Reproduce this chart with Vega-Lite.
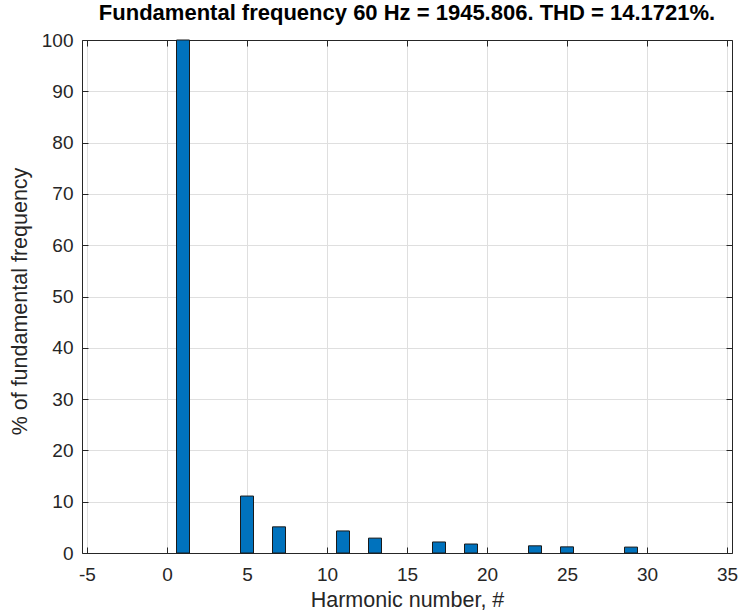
{
  "$schema": "https://vega.github.io/schema/vega-lite/v6.json",
  "width": 650,
  "height": 513,
  "autosize": {"type": "none"},
  "padding": {"left": 82, "top": 40, "right": 11, "bottom": 62},
  "background": "white",
  "config": {
    "view": {"stroke": null},
    "font": "Liberation Sans",
    "axis": {
      "labelFont": "Liberation Sans",
      "titleFont": "Liberation Sans",
      "labelFontSize": 19,
      "titleFontSize": 21.5,
      "labelColor": "#262626",
      "titleColor": "#262626",
      "titleFontWeight": "normal",
      "domainColor": "#262626",
      "domainWidth": 1,
      "tickColor": "#262626",
      "tickWidth": 1,
      "tickSize": -6,
      "gridColor": "#dfdfdf",
      "gridWidth": 1
    },
    "title": {"font": "Liberation Sans", "fontSize": 22, "fontWeight": "bold", "color": "#000000"}
  },
  "title": {"text": "Fundamental frequency 60 Hz = 1945.806. THD = 14.1721%.", "offset": 6},
  "data": {
    "values": [
      {"harmonic": 1, "pct": 100},
      {"harmonic": 5, "pct": 11.1},
      {"harmonic": 7, "pct": 5.1},
      {"harmonic": 11, "pct": 4.3},
      {"harmonic": 13, "pct": 2.9},
      {"harmonic": 17, "pct": 2.15},
      {"harmonic": 19, "pct": 1.75},
      {"harmonic": 23, "pct": 1.4},
      {"harmonic": 25, "pct": 1.2},
      {"harmonic": 29, "pct": 1.15}
    ]
  },
  "layer": [
    {
      "mark": {"type": "bar", "size": 13, "fill": "#0072BD", "stroke": "#1a1a1a", "strokeWidth": 1},
      "encoding": {
        "x": {
          "field": "harmonic", "type": "quantitative",
          "scale": {"domain": [-5, 35], "nice": false, "zero": false},
          "axis": {"orient": "bottom", "values": [-5, 0, 5, 10, 15, 20, 25, 30, 35], "labelExpr": "'' + datum.value", "title": "Harmonic number, #", "labelPadding": 18, "titlePadding": 5, "grid": true, "labelFlush": false}
        },
        "y": {
          "field": "pct", "type": "quantitative",
          "scale": {"domain": [0, 100], "nice": false},
          "axis": {"orient": "left", "values": [0, 10, 20, 30, 40, 50, 60, 70, 80, 90, 100], "title": "% of fundamental frequency", "labelPadding": 15, "titlePadding": 10, "titleY": 261, "grid": true}
        }
      }
    },
    {
      "mark": {"type": "bar", "size": 13, "opacity": 0},
      "encoding": {
        "x": {
          "field": "harmonic", "type": "quantitative",
          "scale": {"domain": [-5, 35], "nice": false, "zero": false},
          "axis": {"orient": "top", "values": [-5, 0, 5, 10, 15, 20, 25, 30, 35], "labels": false, "title": null, "grid": false}
        },
        "y": {
          "field": "pct", "type": "quantitative",
          "scale": {"domain": [0, 100], "nice": false},
          "axis": {"orient": "right", "values": [0, 10, 20, 30, 40, 50, 60, 70, 80, 90, 100], "labels": false, "title": null, "grid": false}
        }
      }
    }
  ],
  "resolve": {"axis": {"x": "independent", "y": "independent"}}
}
